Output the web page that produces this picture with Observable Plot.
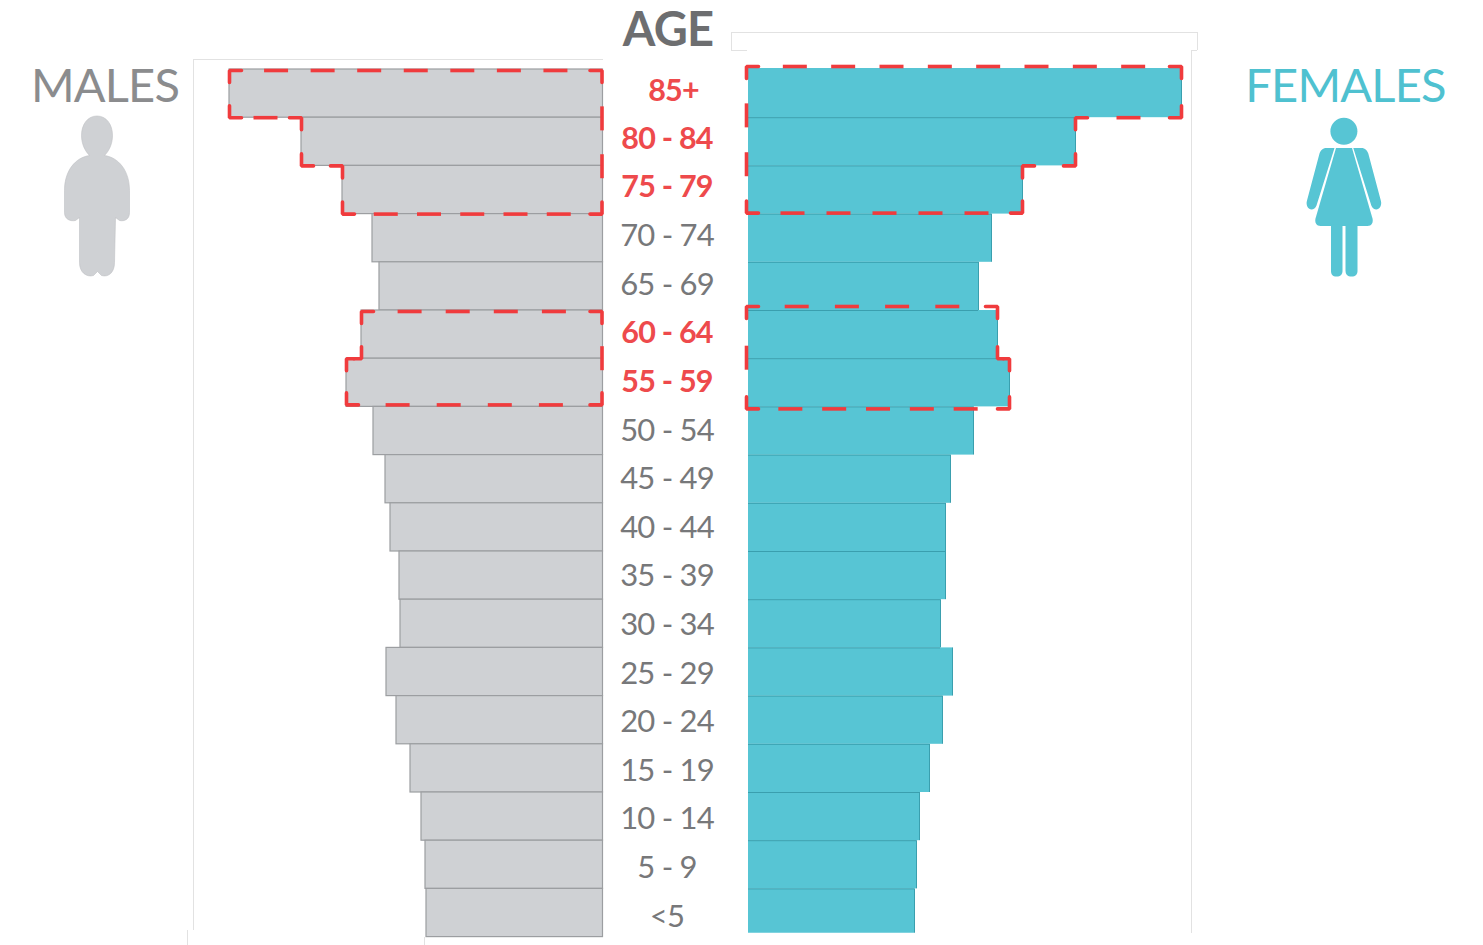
<!DOCTYPE html>
<html>
<head>
<meta charset="utf-8">
<script src="https://cdn.jsdelivr.net/npm/d3@7"></script>
<script src="https://cdn.jsdelivr.net/npm/@observablehq/plot@0.6"></script>
<style>html,body{margin:0;padding:0;background:#fff}svg{display:block}</style>
</head>
<body>
<div id="chart"></div>
<script>
const ages = ["85+","80 - 84","75 - 79","70 - 74","65 - 69","60 - 64","55 - 59","50 - 54","45 - 49","40 - 44","35 - 39","30 - 34","25 - 29","20 - 24","15 - 19","10 - 14","5 - 9","<5"];
const males   = [374,302,261,231,224,242,257,230,218,213,204,203,217,207,193,182,178,177];
const females = [433,327,274,243,230,249,261,225,202,197,197,192,204,194,181,171,168,166];
const highlightGroups = [[0,1,2],[5,6]];

const W = 1483, H = 945, centre = 675.5, base = 72.5;
const top0 = 69, rowH = 48.2;
const X = px => px - centre;               // page x -> value axis
const Y = py => (py - top0) / rowH;        // page y -> row axis

const GREY = "#cfd1d4", GREYLINE = "#9c9ea1", TEAL = "#57c5d4", TEALLINE = "#3a9fae", RED = "#f03b3d";
const FONT = "Lato, 'Open Sans', sans-serif";
const CORNER = 12, DASH = 24, GAP = 23;

const rows = ages.map((age,i)=>({age,i,m:males[i],f:females[i],hot:highlightGroups.flat().includes(i)}));

// vertices of the closed step outline round a run of rows, from the values
function vertices(vals, group, sign, topPad, botPad, basePad){
  const a = group[0], b = group[group.length-1];
  const edge = i => sign*(base + vals[i]);
  const inner = sign*(base + basePad);
  const t = a + topPad/rowH, e = b + 1 + botPad/rowH;
  const pts = [[inner,t],[edge(a),t]];
  for (let i=a;i<b;i++){ pts.push([edge(i),i+1]); pts.push([edge(i+1),i+1]); }
  pts.push([edge(b),e],[inner,e]);
  return pts;
}
// every corner carries an L, every edge an even run of dashes between corners
function dashed(pts){
  const segs = [], corners = [], n = pts.length;
  const along = (p,q,d) => {
    const dx = q[0]-p[0], dy = (q[1]-p[1])*rowH, L = Math.hypot(dx,dy) || 1;
    return [p[0]+dx*d/L, p[1]+dy*d/L/rowH];
  };
  const len = (p,q) => Math.hypot(q[0]-p[0],(q[1]-p[1])*rowH);
  pts.forEach((p,k)=>{
    const prev = pts[(k-1+n)%n], next = pts[(k+1)%n];
    const a = along(p,prev,Math.min(CORNER,len(p,prev)/2)), b = along(p,next,Math.min(CORNER,len(p,next)/2));
    const id = corners.length;
    corners.push({id,x:a[0],y:a[1]},{id,x:p[0],y:p[1]},{id,x:b[0],y:b[1]});
    const L = len(p,next), room = L - 2*CORNER;
    const count = Math.max(0,Math.round((room-GAP)/(DASH+GAP)));
    const gap = (room - count*DASH)/(count+1);
    for (let j=0;j<count;j++){
      const s = CORNER + gap*(j+1) + DASH*j;
      const u = along(p,next,s), v = along(p,next,s+DASH);
      segs.push({x1:u[0],y1:u[1],x2:v[0],y2:v[1]});
    }
  });
  return {segs,corners};
}
const shapes = [
  vertices(males,highlightGroups[0],-1,1,0,1.5),
  vertices(males,highlightGroups[1],-1,1,-2,1.5),
  vertices(females,highlightGroups[0],1,-3,-1,-2),
  vertices(females,highlightGroups[1],1,-4,2,-2)
].map(dashed);
const dashSegs = shapes.flatMap(s=>s.segs);
const cornerPts = shapes.flatMap((s,k)=>s.corners.map(c=>({...c,id:k+"-"+c.id})));

const svgUri = (vb,w,h,body) => "data:image/svg+xml;utf8," + encodeURIComponent(
  `<svg xmlns="http://www.w3.org/2000/svg" viewBox="${vb}" width="${w}" height="${h}">${body}</svg>`);
const manIcon = svgUri("60 110 74 170",74,170,
 `<path fill="#cfd1d4" stroke="#bfc1c4" stroke-width="0.6" d="M96.5 115.5C106 115.5 112 124 112 135C112 144 108 151 104 155C118 157 129 170 129 190L129 212C129 219 124 221 119 220L115 217L114 262C114 272 108 277 101 275L97 271L93 275C86 277 79 272 79 262L79 217L75 220C70 221 64 219 64 212L64 190C64 170 75 157 89 155C85 151 81 144 81 135C81 124 87 115.5 96.5 115.5Z"/>`);
const womanIcon = svgUri("1303 115 81 165",81,165,
 `<g fill="#57c5d4"><circle cx="1343.4" cy="130.7" r="13.5"/>
 <path d="M1333 147.5L1326 147.5C1322 147.5 1320 150 1319 153L1306.5 200C1305 205 1308 209 1311 209C1313 209 1315 207.5 1316 205L1334 147.5Z"/>
 <path d="M1353.8 147.5L1360.8 147.5C1364.8 147.5 1366.8 150 1367.8 153L1380.3 200C1381.8 205 1378.8 209 1375.8 209C1373.8 209 1371.8 207.5 1370.8 205L1352.8 147.5Z"/>
 <path d="M1335.5 147.5L1351.5 147.5L1372 218C1373 222 1371 225.5 1367 225.5L1320 225.5C1316 225.5 1314 222 1315 218Z"/>
 <path d="M1330.5 224L1342 224L1342 270C1342 274 1340 276 1336 276C1332 276 1330.5 274 1330.5 270Z"/>
 <path d="M1345 224L1357 224L1357 270C1357 274 1355 276 1351 276C1347 276 1345 274 1345 270Z"/></g>`);

const frameLines = [
  {x1:193,x2:603,y:59},{x1:731,x2:1197,y:32},{x1:1191,x2:1197,y:50},{x1:731,x2:747,y:50}
];
const frameVerticals = [
  {x:193,y1:59,y2:930},{x:187,y1:930,y2:945},{x:1191,y1:50,y2:933},{x:1197,y1:32,y2:50},{x:731,y1:32,y2:50},{x:424,y1:937,y2:945}
];
const labelX = d => X(d.i===0 ? 673 : 666.5);
const labelY = d => Y((d.i===0 ? 91 : 90 + 48.6*d.i));
const firstTop = -1/rowH, lastBottom = 17.92;

const plot = Plot.plot({
  width:W, height:H, margin:0,
  style:{fontFamily:FONT, background:"#fff", letterSpacing:"-0.8px"},
  x:{axis:null, domain:[-centre,W-centre], range:[0,W]},
  y:{axis:null, domain:[0,18], range:[top0, top0+18*rowH]},
  marks:[
    Plot.ruleY(frameLines,{x1:d=>X(d.x1),x2:d=>X(d.x2),y:d=>Y(d.y),stroke:"#e2e2e2",strokeWidth:1}),
    Plot.ruleX(frameVerticals,{x:d=>X(d.x),y1:d=>Y(d.y1),y2:d=>Y(d.y2),stroke:"#e2e2e2",strokeWidth:1}),
    // males
    Plot.rectX(rows,{x1:-base-0.5,x2:d=>-(base+d.m),y1:d=>d.i,y2:d=>d.i+1,fill:GREY,stroke:GREYLINE,strokeWidth:1.2}),
    // females
    Plot.rectX(rows,{x1:base,x2:d=>base+d.f,y1:d=>d.i===0?firstTop:d.i,y2:d=>d.i===17?lastBottom:d.i+1,fill:TEAL}),
    Plot.ruleY(rows.slice(1),{x1:base,x2:d=>base+Math.min(d.f,females[d.i-1]),y:d=>d.i,stroke:TEALLINE,strokeWidth:1}),
    Plot.ruleX(rows,{x:d=>base+d.f,y1:d=>d.i===0?firstTop:d.i,y2:d=>d.i===17?lastBottom:d.i+1,stroke:TEALLINE,strokeWidth:1}),
    // highlight outlines
    Plot.link(dashSegs,{x1:"x1",y1:"y1",x2:"x2",y2:"y2",stroke:RED,strokeWidth:3.6}),
    Plot.line(cornerPts,{x:"x",y:"y",z:"id",stroke:RED,strokeWidth:3.6,strokeLinejoin:"miter"}),
    // age labels
    Plot.text(rows.filter(d=>!d.hot),{x:labelX,y:labelY,text:"age",fontSize:31,fill:"#77787a",textAnchor:"middle",lineAnchor:"middle"}),
    Plot.text(rows.filter(d=>d.hot),{x:labelX,y:labelY,text:"age",fontSize:30.5,fontWeight:700,fill:"#ee4a4c",textAnchor:"middle",lineAnchor:"middle"}),
    // headers
    Plot.text(["AGE"],{x:X(667.5),y:Y(30),text:d=>d,fontSize:47,fontWeight:700,fill:"#6d6e70",textAnchor:"middle",lineAnchor:"middle"}),
    Plot.text(["MALES"],{x:X(104.5),y:Y(86),text:d=>d,fontSize:47,fill:"#8b8c8e",textAnchor:"middle",lineAnchor:"middle"}),
    Plot.text(["FEMALES"],{x:X(1345),y:Y(86),text:d=>d,fontSize:47,fill:"#4fc1d0",textAnchor:"middle",lineAnchor:"middle"}),
    // figures
    Plot.image([manIcon],{x:X(97),y:Y(195),src:d=>d,width:74,height:170}),
    Plot.image([womanIcon],{x:X(1343.5),y:Y(197.5),src:d=>d,width:81,height:165})
  ]
});
document.getElementById("chart").appendChild(plot);
</script>
</body>
</html>
